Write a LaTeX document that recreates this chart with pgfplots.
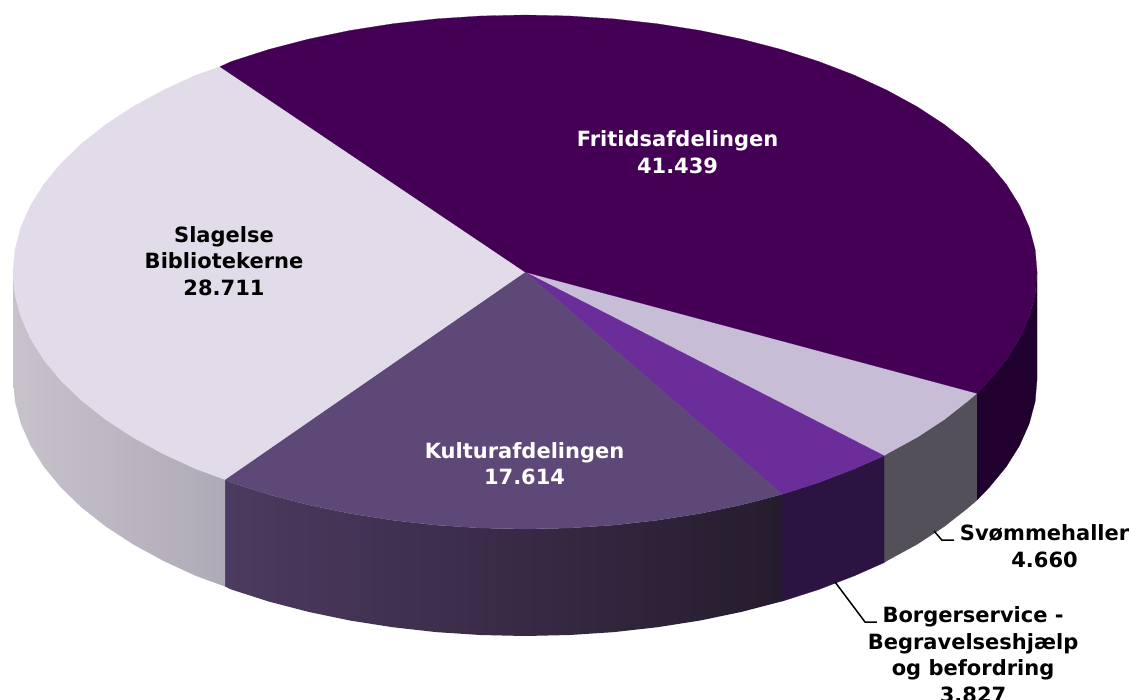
\documentclass[border=0pt]{standalone}
\usepackage{pgfplots}
\pgfplotsset{compat=1.18}
\usepackage{fontspec}
\setmainfont{DejaVu Sans}
\definecolor{fri}{HTML}{440055}
\definecolor{svo}{HTML}{C8BDD7}
\definecolor{bor}{HTML}{6B2D9A}
\definecolor{kul}{HTML}{5E4878}
\definecolor{sla}{HTML}{E2DCEA}
\definecolor{friw}{HTML}{20002F}
\definecolor{svow}{HTML}{54505A}
\definecolor{borw}{HTML}{2C1442}
\definecolor{kulwl}{HTML}{4D3A60}
\definecolor{kulwr}{HTML}{251C2D}
\definecolor{slawl}{HTML}{C7C2CC}
\definecolor{slawr}{HTML}{AFAAB7}
\tikzset{lbl/.style={font=\fontsize{21}{26.5}\selectfont\bfseries, align=center, inner sep=0pt}}
\begin{document}
\begin{tikzpicture}
\useasboundingbox (0,0) rectangle (1131pt,699pt);
\begin{axis}[
  at={(0,0)}, anchor=south west,
  scale only axis, width=1131pt, height=699pt,
  xmin=-525, xmax=606, ymin=-272, ymax=427,
  y dir=reverse, hide axis, clip=false,
]
% side walls
\addplot[draw=friw, line width=0.2pt, fill=friw] coordinates {(512,0)(510.1,22.4)(504.2,44.6)(494.5,66.5)(481.1,87.9)(464,108.6)(451.7,121.3)(451.7,228.3)(464,215.6)(481.1,194.9)(494.5,173.5)(504.2,151.6)(510.1,129.4)(512,107)} -- cycle;
\addplot[draw=svow, line width=0.2pt, fill=svow] coordinates {(451.7,121.3)(443.4,128.5)(419.4,147.4)(392.2,165.2)(362,181.7)(359,183.7)(359,290.7)(362,288.7)(392.2,272.2)(419.4,254.4)(443.4,235.5)(451.7,228.3)} -- cycle;
\addplot[draw=borw, line width=0.2pt, fill=borw] coordinates {(359,183.7)(329.1,196.9)(293.7,210.5)(257,222.3)(257,329.3)(293.7,317.5)(329.1,303.9)(359,290.7)} -- cycle;
\addplot[draw=none, left color=kulwl, right color=kulwr] coordinates {(257,222.3)(216.4,232.9)(175.1,241.5)(132.5,248.2)(88.9,253.1)(44.6,256)(0,257)(-44.6,256)(-88.9,253.1)(-132.5,248.2)(-175.1,241.5)(-216.4,232.9)(-256,222.6)(-293.7,210.5)(-300,207.5)(-300,314.5)(-293.7,317.5)(-256,329.6)(-216.4,339.9)(-175.1,348.5)(-132.5,355.2)(-88.9,360.1)(-44.6,363)(0,364)(44.6,363)(88.9,360.1)(132.5,355.2)(175.1,348.5)(216.4,339.9)(257,329.3)} -- cycle;
\addplot[draw=none, left color=slawl, right color=slawr] coordinates {(-300,207.5)(-329.1,196.9)(-362,181.7)(-392.2,165.2)(-419.4,147.4)(-443.4,128.5)(-464,108.6)(-481.1,87.9)(-494.5,66.5)(-504.2,44.6)(-510.1,22.4)(-512,0)(-512,107)(-510.1,129.4)(-504.2,151.6)(-494.5,173.5)(-481.1,194.9)(-464,215.6)(-443.4,235.5)(-419.4,254.4)(-392.2,272.2)(-362,288.7)(-329.1,303.9)(-300,314.5)} -- cycle;
% top slices
\addplot[draw=svo, line width=0.2pt, fill=svo] coordinates {(0,0)(451.7,121.3)(443.4,128.5)(419.4,147.4)(392.2,165.2)(362,181.7)(359,183.7)} -- cycle;
\addplot[draw=bor, line width=0.2pt, fill=bor] coordinates {(0,0)(359,183.7)(329.1,196.9)(293.7,210.5)(257,222.3)} -- cycle;
\addplot[draw=kul, line width=0.2pt, fill=kul] coordinates {(0,0)(257,222.3)(216.4,232.9)(175.1,241.5)(132.5,248.2)(88.9,253.1)(44.6,256)(0,257)(-44.6,256)(-88.9,253.1)(-132.5,248.2)(-175.1,241.5)(-216.4,232.9)(-256,222.6)(-293.7,210.5)(-300,207.5)} -- cycle;
\addplot[draw=sla, line width=0.2pt, fill=sla] coordinates {(0,0)(-300,207.5)(-329.1,196.9)(-362,181.7)(-392.2,165.2)(-419.4,147.4)(-443.4,128.5)(-464,108.6)(-481.1,87.9)(-494.5,66.5)(-504.2,44.6)(-510.1,22.4)(-512,0)(-510.1,-22.4)(-504.2,-44.6)(-494.5,-66.5)(-481.1,-87.9)(-464,-108.6)(-443.4,-128.5)(-419.4,-147.4)(-392.2,-165.2)(-362,-181.7)(-329.1,-196.9)(-305,-205.3)} -- cycle;
\addplot[draw=fri, line width=0.2pt, fill=fri] coordinates {(0,0)(-305,-205.3)(-293.7,-210.5)(-256,-222.6)(-216.4,-232.9)(-175.1,-241.5)(-132.5,-248.2)(-88.9,-253.1)(-44.6,-256)(0,-257)(44.6,-256)(88.9,-253.1)(132.5,-248.2)(175.1,-241.5)(216.4,-232.9)(256,-222.6)(293.7,-210.5)(329.1,-196.9)(362,-181.7)(392.2,-165.2)(419.4,-147.4)(443.4,-128.5)(464,-108.6)(481.1,-87.9)(494.5,-66.5)(504.2,-44.6)(510.1,-22.4)(512,0)(510.1,22.4)(504.2,44.6)(494.5,66.5)(481.1,87.9)(464,108.6)(451.7,121.3)} -- cycle;
% leader lines
\addplot[black, line width=1.5pt] coordinates {(409,259)(416.7,268)(429,268)};
\addplot[black, line width=1.5pt] coordinates {(310,310)(340,350)(351.7,350)};
% labels
\node[lbl, text=white] at (axis cs:152.5,-120) {Fritidsafdelingen\\41.439};
\node[lbl, text=black] at (axis cs:-301,-11) {Slagelse\\Bibliotekerne\\28.711};
\node[lbl, text=white] at (axis cs:-0.5,191.5) {Kulturafdelingen\\17.614};
\node[lbl, text=black] at (axis cs:519.5,274) {Svømmehaller\\4.660};
\node[lbl, text=black] at (axis cs:448,382.5) {Borgerservice -\\Begravelseshjælp\\og befordring\\3.827};
\end{axis}
\end{tikzpicture}
\end{document}
